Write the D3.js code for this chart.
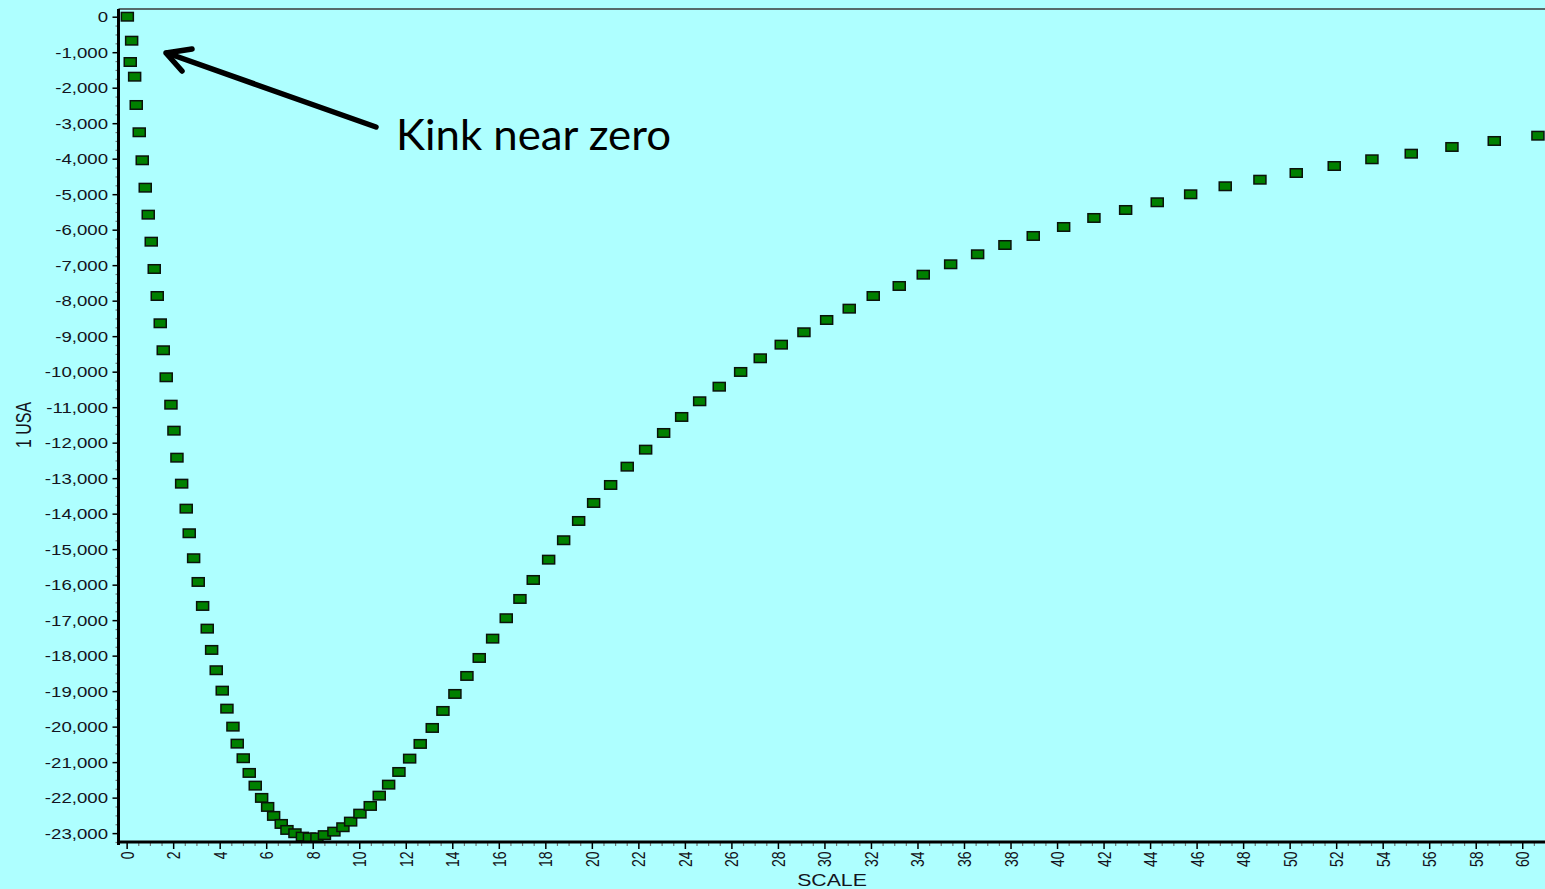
<!DOCTYPE html>
<html>
<head>
<meta charset="utf-8">
<script src="https://cdn.jsdelivr.net/npm/d3@7"></script>
<style>
  html, body { margin: 0; padding: 0; background: #aeffff; overflow: hidden; }
  svg { display: block; }
  .lbl { font-family: "Liberation Sans", Arial, sans-serif; fill: #141420; }
</style>
</head>
<body>
<svg id="chart" width="1545" height="889"></svg>
<script>
// SCALE values (x) and the matching 1 USA values (y)
const scaleValues = [
  0.03, 0.215, 0.155, 0.344, 0.413, 0.542, 0.671, 0.800, 0.929, 1.058,
  1.187, 1.316, 1.445, 1.574, 1.702, 1.905, 2.034, 2.163, 2.365, 2.562,
  2.691, 2.880, 3.078, 3.267, 3.465, 3.654, 3.852, 4.110, 4.312, 4.570,
  4.755, 5.013, 5.271, 5.529, 5.804, 6.062, 6.320, 6.647, 6.892, 7.236,
  7.558, 7.859, 8.181, 8.504, 8.912, 9.299, 9.630, 10.030, 10.473, 10.860,
  11.264, 11.707, 12.167, 12.622, 13.139, 13.598, 14.114, 14.630, 15.159, 15.735,
  16.320, 16.909, 17.481, 18.143, 18.788, 19.433, 20.077, 20.808, 21.522, 22.313,
  23.087, 23.861, 24.635, 25.477, 26.397, 27.240, 28.143, 29.119, 30.095, 31.066,
  32.098, 33.216, 34.248, 35.426, 36.586, 37.760, 38.977, 40.284, 41.586, 42.949,
  44.308, 45.744, 47.231, 48.723, 50.284, 51.917, 53.538, 55.228, 56.978, 58.797,
  60.675
];
const usaValues = [
  0, -676, -1276, -1690, -2487, -3256, -4045, -4817, -5577, -6338,
  -7107, -7868, -8637, -9397, -10158, -10930, -11662, -12423, -13155, -13859,
  -14552, -15256, -15924, -16600, -17239, -17839, -18411, -18986, -19493, -20000,
  -20479, -20890, -21304, -21662, -22008, -22262, -22515, -22741, -22910, -23003,
  -23099, -23121, -23121, -23056, -22958, -22834, -22676, -22451, -22234, -21944,
  -21634, -21277, -20901, -20487, -20037, -19558, -19079, -18572, -18065, -17521,
  -16946, -16403, -15868, -15296, -14749, -14206, -13699, -13192, -12676, -12197,
  -11727, -11276, -10834, -10423, -10008, -9623, -9239, -8890, -8544, -8225,
  -7868, -7586, -7268, -6975, -6693, -6431, -6177, -5924, -5670, -5445,
  -5228, -5003, -4777, -4592, -4403, -4206, -4017, -3859, -3670, -3501,
  -3352
];

// Axis ticks and titles
const xTickValues = d3.range(0, 61, 2);
const yTickValues = d3.range(0, -23001, -1000);
const xMinorTicks = d3.range(0, 61, 0.5).filter(v => v % 2 !== 0);
const yMinorTicks = d3.range(0, -23251, -250).filter(v => v % 1000 !== 0);
const xTitle = "SCALE";
const yTitle = "1 USA";
const noteText = "Kink near zero";

const points = scaleValues.map((s, i) => ({ s, v: usaValues[i] }));

const svg = d3.select("#chart");
const stretch = 1.33;   // horizontally widened axis lettering

const x = d3.scaleLinear().domain([-0.35, 61]).range([118.5, 1545.5]);
const y = d3.scaleLinear().domain([-23250, 217]).range([842, 9]);

const fmt = d3.formatLocale({ decimal: ".", thousands: ",", grouping: [3], currency: ["", ""], minus: "-" }).format(",");

// markers
const mw = 12, mh = 8.5;
svg.append("g").selectAll("rect").data(points).join("rect")
  .attr("x", d => x(d.s) - mw / 2)
  .attr("y", d => y(d.v) - mh / 2)
  .attr("width", mw)
  .attr("height", mh)
  .attr("fill", "#008000")
  .attr("stroke", "#0b120b")
  .attr("stroke-width", 1.5);

// top frame line
svg.append("line")
  .attr("x1", x.range()[0]).attr("x2", 1545)
  .attr("y1", y.range()[1]).attr("y2", y.range()[1])
  .attr("stroke", "#3a3a3a").attr("stroke-width", 1.3);

// y axis: minor then major ticks
const yMinor = svg.append("g").attr("transform", `translate(${x.range()[0]},0)`)
  .call(d3.axisLeft(y).tickValues(yMinorTicks).tickSize(3).tickFormat(""));
yMinor.select(".domain").remove();
yMinor.selectAll("line").attr("stroke", "#6f7a7a").attr("stroke-width", 1.2);

const yAxis = svg.append("g").attr("transform", `translate(${x.range()[0]},0)`)
  .call(d3.axisLeft(y).tickValues(yTickValues).tickSize(6).tickFormat(fmt));
yAxis.select(".domain").remove();
yAxis.selectAll("line").attr("stroke", "#000").attr("stroke-width", 1.5);
yAxis.selectAll("text")
  .attr("class", "lbl")
  .attr("x", 0).attr("dy", "0.35em")
  .attr("transform", `translate(-10.5,0) scale(${stretch},1)`)
  .attr("text-anchor", "end")
  .style("font-size", "14px");

// x axis: minor then major ticks
const xMinor = svg.append("g").attr("transform", `translate(0,${y.range()[0]})`)
  .call(d3.axisBottom(x).tickValues(xMinorTicks).tickSize(4).tickFormat(""));
xMinor.select(".domain").remove();
xMinor.selectAll("line").attr("stroke", "#6f7a7a").attr("stroke-width", 1.2);

const xAxis = svg.append("g").attr("transform", `translate(0,${y.range()[0]})`)
  .call(d3.axisBottom(x).tickValues(xTickValues).tickSize(7).tickFormat(d3.format("d")));
xAxis.select(".domain").remove();
xAxis.selectAll("line").attr("stroke", "#000").attr("stroke-width", 1.5);
xAxis.selectAll("text")
  .attr("class", "lbl")
  .attr("x", 0).attr("y", 0).attr("dy", "0.35em")
  .attr("transform", `translate(0,9.5) scale(${stretch},1) rotate(-90)`)
  .attr("text-anchor", "end")
  .style("font-size", "14px");

// heavy axis lines
svg.append("line")
  .attr("x1", x.range()[0]).attr("x2", x.range()[0])
  .attr("y1", y.range()[1]).attr("y2", y.range()[0] + 3)
  .attr("stroke", "#000").attr("stroke-width", 3);
svg.append("line")
  .attr("x1", x.range()[0] - 1.5).attr("x2", 1545)
  .attr("y1", y.range()[0]).attr("y2", y.range()[0])
  .attr("stroke", "#000").attr("stroke-width", 3);

// axis titles
svg.append("text").attr("class", "lbl")
  .attr("transform", `translate(24,425) scale(${stretch},1) rotate(-90)`)
  .attr("text-anchor", "middle").attr("dy", "0.35em")
  .style("font-size", "16px")
  .text(yTitle);
svg.append("text").attr("class", "lbl")
  .attr("transform", `translate(832,886) scale(${stretch},1)`)
  .attr("text-anchor", "middle")
  .style("font-size", "16px")
  .text(xTitle);

// annotation: arrow pointing at the kink and its caption
const note = svg.append("g").attr("fill", "none").attr("stroke", "#000")
  .attr("stroke-width", 5.5).attr("stroke-linecap", "round").attr("stroke-linejoin", "round");
note.append("path").attr("d", "M376,127 L167,53");
note.append("path").attr("d", "M192,49 L166,53 L182,71");

svg.append("text")
  .attr("x", 396).attr("y", 150)
  .attr("textLength", 275).attr("lengthAdjust", "spacingAndGlyphs")
  .style("font-family", "Lato, 'Open Sans', sans-serif")
  .style("font-size", "43px")
  .attr("fill", "#000")
  .text(noteText);
</script>
</body>
</html>
